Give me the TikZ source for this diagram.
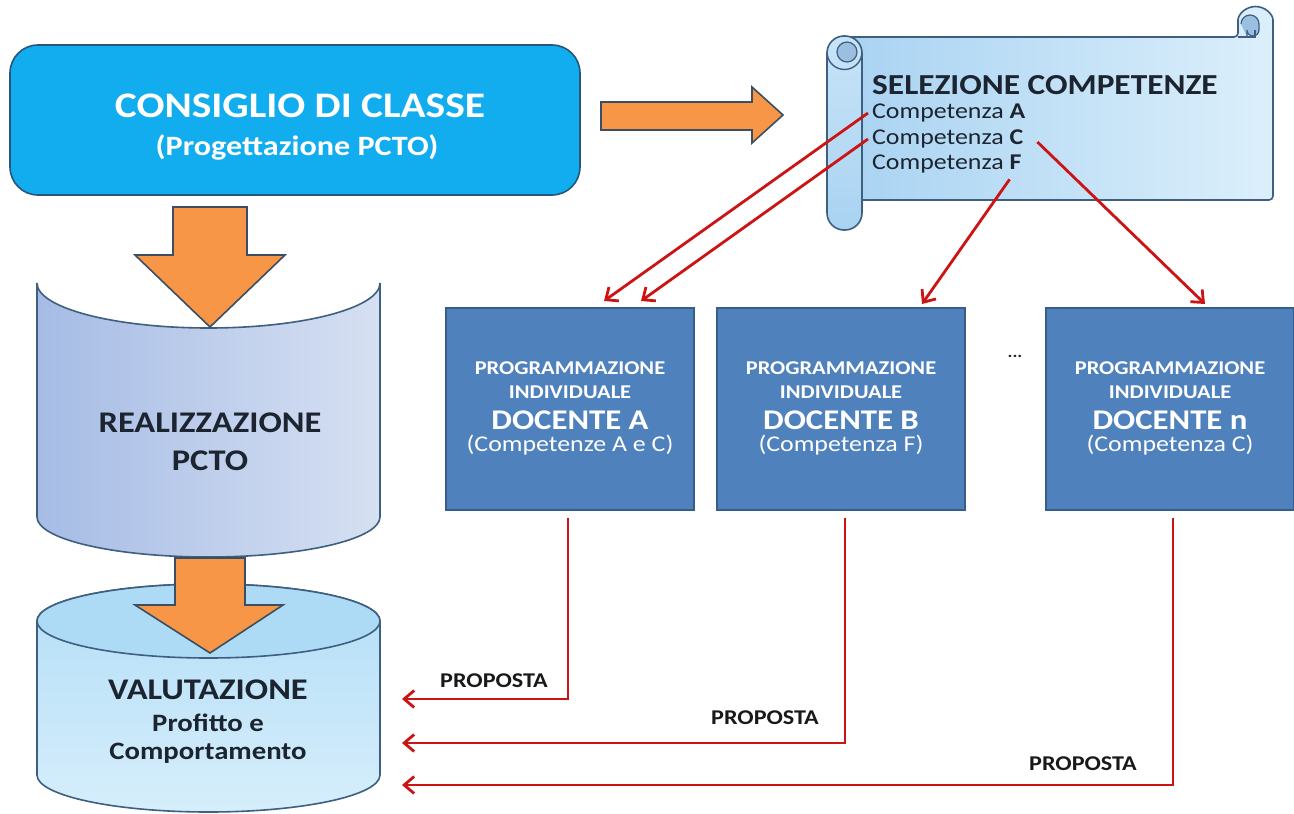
\documentclass[tikz,border=0pt]{standalone}
\usepackage{fontspec}
\setmainfont{Carlito}[FakeStretch=1.15]
\usetikzlibrary{arrows.meta,calc}
\definecolor{consfill}{HTML}{12ADEE}
\definecolor{consline}{HTML}{25577A}
\definecolor{docfill}{HTML}{4F81BD}
\definecolor{docline}{HTML}{385D8A}
\definecolor{orfill}{HTML}{F79646}
\definecolor{orline}{HTML}{3B4E63}
\definecolor{redl}{HTML}{CC1414}
\definecolor{shapeline}{HTML}{3F5F80}
\definecolor{realL}{HTML}{A6BCE5}
\definecolor{realR}{HTML}{D6E0F2}
\definecolor{valT}{HTML}{B3DEF7}
\definecolor{valB}{HTML}{D6EEFB}
\definecolor{valTop}{HTML}{ADDBF6}
\definecolor{scrL}{HTML}{A9D3F2}
\definecolor{scrR}{HTML}{DCEFFB}
\definecolor{curl}{HTML}{6FA3D3}
\definecolor{txt}{HTML}{1C2430}
\tikzset{
  docbox/.style={draw=docline, fill=docfill, line width=2pt, minimum width=248pt, minimum height=202pt, inner sep=0pt},
  doctxt/.style={text=white, font=\bfseries\fontsize{19.5}{21}\selectfont, inner sep=0pt},
  docname/.style={text=white, font=\bfseries\fontsize{28.5}{30}\selectfont, inner sep=0pt},
  docsub/.style={text=white, font=\fontsize{22.5}{24}\selectfont, inner sep=0pt},
  orangearrow/.style={fill=orfill, draw=orline, line width=1.6pt, line join=miter},
  redarrow/.style={draw=redl, line width=2.8pt, -{Straight Barb[length=10pt,width=17pt,line width=2.8pt]}},
  comptxt/.style={text=txt, font=\fontsize{22.5}{24}\selectfont, inner sep=0pt, anchor=west},
  proptxt/.style={text=black!90, font=\bfseries\fontsize{21}{22}\selectfont, inner sep=0pt},
  bigtxt/.style={text=txt, font=\bfseries\fontsize{30}{32}\selectfont, inner sep=0pt}
}
\begin{document}
\begin{tikzpicture}[x=1pt,y=1pt]
\useasboundingbox (0,0) rectangle (1294,-814);
\fill[white] (0,0) rectangle (1294,-814);

% Consiglio di classe
\node[draw=consline, fill=consfill, line width=1.6pt, rounded corners=28pt, minimum width=570pt, minimum height=150pt] (cons) at (295,-120) {};
\node[text=white, font=\bfseries\fontsize{36}{38}\selectfont, inner sep=0pt] (consT) at (300,-106) {CONSIGLIO DI CLASSE};
\node[text=white, font=\bfseries\fontsize{28}{30}\selectfont, inner sep=0pt] (consS) at (297,-147) {(Progettazione PCTO)};

% right orange arrow
\draw[orangearrow] (601,-102) -- (752,-102) -- (752,-87) -- (783,-115) -- (752,-143) -- (752,-130) -- (601,-130) -- cycle;

% scroll
\path[draw=shapeline, line width=1.6pt, left color=scrL, right color=scrR, rounded corners=4pt]
  (845,-37) -- (1238,-37) -- (1238,-24) arc[start angle=180, end angle=0, radius=17.5] -- (1273,-200) -- (845,-200) -- cycle;
\path[draw=shapeline, line width=1.2pt, fill=curl!70] (1247,-37) -- (1247,-30) arc[start angle=180,end angle=360,radius=6] -- (1259,-24) arc[start angle=0,end angle=180,radius=9];
\draw[shapeline, line width=1.6pt] (1238,-37) -- (1255,-37) -- (1255,-30);
\path[draw=shapeline, line width=1.6pt, top color=scrR!60!scrL, bottom color=scrL, rounded corners=17pt]
  (827,-36) rectangle (862,-230);
\path[draw=shapeline, line width=1.2pt, fill=curl!70] (847,-52) circle[radius=10];
\draw[shapeline, line width=1.4pt] (827,-52) arc[start angle=180, end angle=360, radius=17.5];

\node[text=txt, font=\bfseries\fontsize{29}{31}\selectfont, inner sep=0pt, anchor=west] (sel) at (872,-85) {SELEZIONE COMPETENZE};
\node[comptxt] (compA) at (872,-113) {Competenza \textbf{A}};
\node[comptxt] (compC) at (872,-139) {Competenza \textbf{C}};
\node[comptxt] (compF) at (872,-164) {Competenza \textbf{F}};

% Realizzazione
\path[draw=shapeline, line width=1.6pt, left color=realL, right color=realR]
  (37,-283) arc[start angle=180, end angle=360, x radius=171.5, y radius=45]
  -- (380,-517) arc[start angle=0, end angle=-180, x radius=171.5, y radius=40] -- cycle;
\node[bigtxt] (realT) at (210,-423) {REALIZZAZIONE};
\node[bigtxt] (realS) at (210,-461) {PCTO};
\draw[orangearrow] (173,-207) -- (247,-207) -- (247,-255) -- (285,-255) -- (210,-327) -- (135,-255) -- (173,-255) -- cycle;

% Valutazione
\path[draw=shapeline, line width=1.6pt, top color=valT, bottom color=valB]
  (37,-621) -- (37,-775) arc[start angle=180, end angle=360, x radius=171.5, y radius=37]
  -- (380,-621) arc[start angle=0, end angle=180, x radius=171.5, y radius=37] -- cycle;
\path[draw=shapeline, line width=1.6pt, fill=valTop]
  (208.5,-621) ellipse[x radius=171.5, y radius=37];
\draw[orangearrow] (175,-558) -- (245,-558) -- (245,-605) -- (283,-605) -- (210,-653) -- (135,-605) -- (175,-605) -- cycle;
\node[bigtxt] (val) at (208,-690) {VALUTAZIONE};
\node[text=txt, font=\bfseries\fontsize{25}{27}\selectfont, inner sep=0pt] (val2) at (208,-723) {Profitto e};
\node[text=txt, font=\bfseries\fontsize{25}{27}\selectfont, inner sep=0pt] (val3) at (208,-753) {Comportamento};
\coordinate (inA) at (402,-699);
\coordinate (inB) at (402,-743);
\coordinate (inN) at (402,-785);

% Docente boxes
\node[docbox] (docA) at (570,-409) {};
\node[docbox] (docB) at (841,-409) {};
\node[docbox] (docN) at (1170,-409) {};
\foreach \b/\n/\s in {docA/A/Competenze A e C, docB/B/Competenza F, docN/n/Competenza C}{
  \node[doctxt] at ($(\b.center)+(0,41)$) {PROGRAMMAZIONE};
  \node[doctxt] at ($(\b.center)+(0,17)$) {INDIVIDUALE};
  \node[docname] at ($(\b.center)+(0,-11)$) {DOCENTE \n};
  \node[docsub] at ($(\b.center)+(0,-36)$) {(\s)};
}
\node[text=txt, font=\bfseries\fontsize{16}{17}\selectfont, inner sep=0pt] (dots) at (1015,-356) {...};

% red connectors from scroll
\draw[redarrow] ([xshift=-4pt]compA.west) -- ($(docA.north)+(34,6)$);
\draw[redarrow] ([xshift=-4pt]compC.west) -- ($(docA.north)+(71,6)$);
\draw[redarrow] ([xshift=-12pt,yshift=-6pt]compF.south east) -- ($(docB.north)+(81,3)$);
\draw[redarrow] ([xshift=14pt,yshift=-3pt]compC.east) -- ($(docN.north)+(35,3)$);

% proposta connectors
\draw[redarrow] ([xshift=-2pt,yshift=-7pt]docA.south) |- (inA);
\draw[redarrow] ([xshift=4pt,yshift=-7pt]docB.south) |- (inB);
\draw[redarrow] ([xshift=3pt,yshift=-7pt]docN.south) |- (inN);
\node[proptxt] (p1) at (494,-681) {PROPOSTA};
\node[proptxt] (p2) at (765,-718) {PROPOSTA};
\node[proptxt] (p3) at (1083,-764) {PROPOSTA};
\end{tikzpicture}
\end{document}
